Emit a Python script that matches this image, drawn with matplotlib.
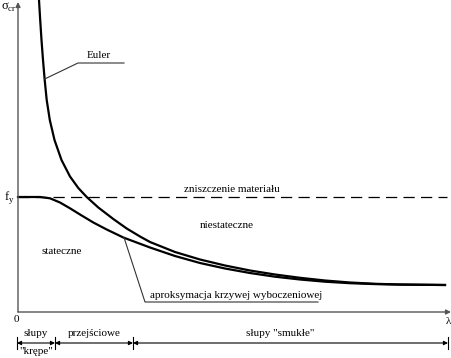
import matplotlib
matplotlib.use("Agg")
import matplotlib.pyplot as plt

# --- data (arbitrary units: slenderness lambda, critical stress sigma; f_y = 115) ---
euler_lam = [21, 22.2, 23.5, 25, 26.7, 28.7, 31.8, 36.5, 43.5, 52, 60.3, 68.7, 80.3, 95.3,
             108.7, 122, 132, 157, 182, 207, 232, 257, 282, 307, 332, 357, 382, 427]
euler_sig = [312, 292, 272, 252, 232, 212, 192, 172, 152, 135.5, 124, 115, 104.5, 93,
             83.5, 75.5, 70, 60, 52.5, 46.5, 41.5, 37.5, 34.2, 31.5, 29.5, 28.2, 27.5, 27]
approx_lam = [0, 12, 22, 32, 42, 52, 62, 75.3, 88.7, 105.3, 132, 157, 182, 207, 232,
              257, 282, 307, 332, 357, 382, 427]
approx_sig = [115, 115, 115, 113.7, 109.5, 103.7, 97.5, 89.5, 82.5, 74.5, 64.5, 56, 49,
              43.5, 39, 35.3, 32.5, 30.3, 28.8, 27.9, 27.4, 27]
fy = 115

W, H = 452, 358
plt.rcParams["font.family"] = ["Liberation Serif", "DejaVu Serif"]
fig = plt.figure(figsize=(W / 100, H / 100), dpi=100)
ax = fig.add_axes([18 / W, (H - 312) / H, 430 / W, 307 / H])
ax.set_xlim(0, 430)
ax.set_ylim(0, 307)
ax.axis("off")

def lx(x):  # pixel x -> data
    return x - 18

def sy(y):  # pixel y -> data
    return 312 - y

fs = 8
axc = "#555555"

# axes arrows
ax.annotate("", xy=(lx(18), sy(2)), xytext=(lx(18), 0), xycoords="data",
            arrowprops=dict(arrowstyle="-|>", color=axc, lw=1.0, mutation_scale=7,
                            shrinkA=0, shrinkB=0), annotation_clip=False)
ax.annotate("", xy=(lx(451), 0), xytext=(0, 0), xycoords="data",
            arrowprops=dict(arrowstyle="-|>", color=axc, lw=1.0, mutation_scale=7,
                            shrinkA=0, shrinkB=0), annotation_clip=False)

# curves
ax.plot(euler_lam, euler_sig, color="black", lw=1.6, clip_on=False, solid_joinstyle="round")
ax.plot(approx_lam, approx_sig, color="black", lw=1.6, clip_on=False, solid_joinstyle="round")
ax.plot([0, lx(447)], [fy, fy], color="black", lw=0.9, dashes=(9, 5))

# leader lines
ax.plot([lx(44.7), lx(78), lx(124)], [sy(79), sy(63), sy(63)], color="#333333", lw=0.8)
ax.plot([lx(124), lx(145), lx(318)], [sy(237.5), sy(302), sy(302)], color="#333333", lw=0.8)

# texts
ax.text(lx(98.5), sy(56), "Euler", fontsize=fs, ha="center", va="center")
ax.text(lx(236), sy(295), "aproksymacja krzywej wyboczeniowej", fontsize=fs, ha="center", va="center")
ax.text(lx(232), sy(189.5), "zniszczenie materiału", fontsize=fs, ha="center", va="center")
ax.text(lx(227), sy(225), "niestateczne", fontsize=fs, ha="center", va="center")
ax.text(lx(62), sy(251), "stateczne", fontsize=fs, ha="center", va="center")
ax.text(lx(1), sy(7), r"σ$_{\mathregular{cr}}$", fontsize=fs + 1, ha="left", va="center", clip_on=False)
ax.text(lx(4), sy(197), r"f$_{\mathregular{y}}$", fontsize=fs + 1, ha="left", va="center", clip_on=False)
ax.text(lx(16), sy(320), "0", fontsize=fs, ha="center", va="center", clip_on=False)
ax.text(lx(448), sy(321), "λ", fontsize=fs, ha="center", va="center", clip_on=False)

# dimension line
ticks_px = [17, 55, 133, 448]
ydim = sy(343)
for t in ticks_px:
    ax.plot([lx(t), lx(t)], [sy(337), sy(349)], color="black", lw=0.8, clip_on=False)
for a, b in zip(ticks_px[:-1], ticks_px[1:]):
    ax.annotate("", xy=(lx(b), ydim), xytext=(lx(a), ydim), xycoords="data",
                arrowprops=dict(arrowstyle="<|-|>", color="black", lw=0.8, mutation_scale=6,
                                shrinkA=0, shrinkB=0), annotation_clip=False)
ax.text(lx(36), sy(333), "słupy", fontsize=fs, ha="center", va="center", clip_on=False)
ax.text(lx(36), sy(352), "\"krępe\"", fontsize=fs, ha="center", va="center", clip_on=False)
ax.text(lx(94), sy(334), "przejściowe", fontsize=fs, ha="center", va="center", clip_on=False)
ax.text(lx(280), sy(334), "słupy \"smukłe\"", fontsize=fs, ha="center", va="center", clip_on=False)

fig.savefig("out.png", dpi=100)
